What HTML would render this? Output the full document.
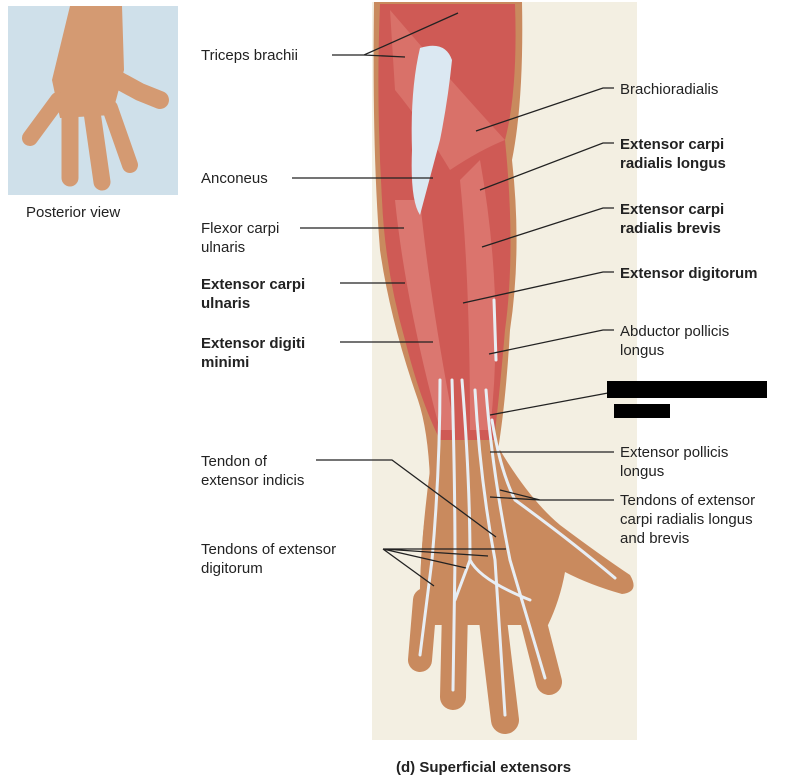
<!DOCTYPE html>
<html><head><meta charset="utf-8"><style>
body{margin:0;background:#fff;}
svg{display:block;font-family:"Liberation Sans",Arial,sans-serif;}
</style></head><body>
<svg width="800" height="781" viewBox="0 0 800 781" xmlns="http://www.w3.org/2000/svg">
<!-- hand photo -->
<rect x="8" y="6" width="170" height="189" fill="#cfe0ea"/>
<path d="M70 6 L122 6 L124 70 L112 115 L60 118 L52 80 Z" fill="#d49a72"/>
<g stroke="#d49a72" stroke-linecap="round" fill="none">
<path d="M58 100 L30 138" stroke-width="16"/>
<path d="M70 110 L70 178" stroke-width="17"/>
<path d="M92 112 L102 182" stroke-width="17"/>
<path d="M110 108 L130 165" stroke-width="16"/>
<path d="M118 80 L140 92 L160 100" stroke-width="18"/>
</g>
<text x="26" y="217" font-size="15" fill="#222">Posterior view</text>
<!-- panel -->
<rect x="372" y="2" width="265" height="738" fill="#f3efe2"/>
<!-- skin arm -->
<path d="M374 2 L522 2 Q524 100 512 160 Q522 250 510 330 Q506 400 498 450 Q500 480 515 500 L480 600 L420 600 Q420 540 430 480 Q428 430 418 400 Q390 320 380 250 Q372 150 374 2 Z" fill="#c98a5e"/>
<path d="M430 470 Q470 455 500 450 Q530 500 560 525 Q600 555 630 575 Q640 592 622 594 Q590 585 565 572 Q560 600 548 625 L420 625 Q418 560 430 470 Z" fill="#c98a5e"/>
<g stroke="#c98a5e" stroke-linecap="round" fill="none">
<path d="M425 600 L420 660" stroke-width="24"/>
<path d="M455 610 L453 697" stroke-width="26"/>
<path d="M492 612 L505 720" stroke-width="28"/>
<path d="M528 600 L549 682" stroke-width="26"/>
</g>
<!-- muscles -->
<path d="M380 4 L515 4 Q518 90 505 140 Q516 250 505 330 Q500 390 494 440 L440 440 Q420 400 405 340 Q385 270 382 200 Q376 100 380 4 Z" fill="#cf5a55"/>
<path d="M390 10 Q450 80 505 140 Q480 150 450 170 Q420 120 395 90 Z" fill="#dd7a72" opacity=".7"/>
<path d="M460 180 Q470 280 470 430 L490 430 Q505 300 480 160 Z" fill="#e07f77" opacity=".7"/>
<path d="M395 200 Q405 300 440 430 L455 430 Q430 300 420 200 Z" fill="#e38a82" opacity=".6"/>
<!-- olecranon white -->
<path d="M420 48 Q445 40 452 60 Q448 100 440 140 Q432 170 420 215 Q410 200 412 150 Q410 90 420 48 Z" fill="#dbe8f2"/>
<!-- tendons -->
<g stroke="#e8eef4" stroke-width="3" fill="none" stroke-linecap="round">
<path d="M440 380 Q440 470 432 560 L420 655"/>
<path d="M452 380 Q455 480 455 560 L453 690"/>
<path d="M462 380 Q470 480 470 560 L455 600"/>
<path d="M475 390 Q480 480 495 560 L505 715"/>
<path d="M486 390 Q492 470 510 560 L545 678"/>
<path d="M492 420 Q500 470 515 500 Q570 540 615 578"/>
<path d="M494 300 L496 360"/>
<path d="M470 560 Q480 580 530 600"/>
</g>
<!-- connector lines -->
<g stroke="#222" stroke-width="1.3" fill="none">
<path d="M332 55 L364 55 L458 13 M364 55 L405 57"/>
<path d="M614 88 L603 88 L476 131"/>
<path d="M614 143 L603 143 L480 190"/>
<path d="M614 208 L603 208 L482 247"/>
<path d="M614 272 L603 272 L463 303"/>
<path d="M614 330 L603 330 L489 354"/>
<path d="M608 393 L490 415"/>
<path d="M614 452 L490 452"/>
<path d="M614 500 L540 500 L500 490 M540 500 L490 497"/>
<path d="M292 178 L433 178"/>
<path d="M300 228 L404 228"/>
<path d="M340 283 L405 283"/>
<path d="M340 342 L433 342"/>
<path d="M316 460 L392 460 L496 537"/>
<path d="M383 549 L506 549 M383 549 L488 556 M383 549 L466 568 M383 549 L434 586"/>
</g>
<!-- black redaction -->
<rect x="607" y="381" width="160" height="17" fill="#000"/>
<rect x="614" y="404" width="56" height="14" fill="#000"/>
<!-- labels -->
<g font-size="15" fill="#222">
<text x="201" y="60">Triceps brachii</text>
<text x="201" y="183">Anconeus</text>
<text x="201" y="233">Flexor carpi</text><text x="201" y="252">ulnaris</text>
<text x="201" y="466">Tendon of</text><text x="201" y="485">extensor indicis</text>
<text x="201" y="554">Tendons of extensor</text><text x="201" y="573">digitorum</text>
<text x="620" y="94">Brachioradialis</text>
<text x="620" y="336">Abductor pollicis</text><text x="620" y="355">longus</text>
<text x="620" y="457">Extensor pollicis</text><text x="620" y="476">longus</text>
<text x="620" y="505">Tendons of extensor</text><text x="620" y="524">carpi radialis longus</text><text x="620" y="543">and brevis</text>
</g>
<g font-size="15" font-weight="bold" fill="#222">
<text x="201" y="289">Extensor carpi</text><text x="201" y="308">ulnaris</text>
<text x="201" y="348">Extensor digiti</text><text x="201" y="367">minimi</text>
<text x="620" y="149">Extensor carpi</text><text x="620" y="168">radialis longus</text>
<text x="620" y="214">Extensor carpi</text><text x="620" y="233">radialis brevis</text>
<text x="620" y="278">Extensor digitorum</text>
<text x="396" y="772">(d) Superficial extensors</text>
</g>
</svg>
</body></html>
